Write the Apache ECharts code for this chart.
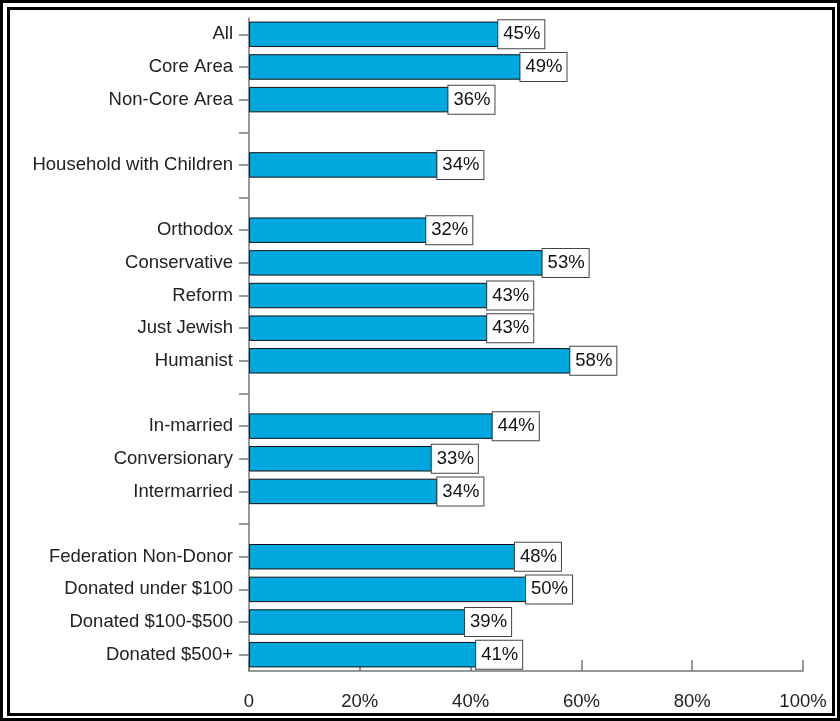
<!DOCTYPE html>
<html>
<head>
<meta charset="utf-8">
<script src="https://cdn.jsdelivr.net/npm/echarts@6/dist/echarts.min.js"></script>
<style>html,body{margin:0;padding:0;background:#fff;}#c{width:840px;height:721px;}</style>
</head>
<body>
<div id="c"></div>
<script>
const categories = ['All','Core Area','Non-Core Area',' ','Household with Children','  ','Orthodox','Conservative','Reform','Just Jewish','Humanist','   ','In-married','Conversionary','Intermarried','    ','Federation Non-Donor','Donated under $100','Donated $100-$500','Donated $500+'];
const values = [45,49,36,null,34,null,32,53,43,43,58,null,44,33,34,null,48,50,39,41];
const xTicks = [0,20,40,60,80,100];

const chart = echarts.init(document.getElementById('c'));
chart.setOption({
  animation: false,
  backgroundColor: '#fff',
  grid: {left: 249, right: 37, top: 18, bottom: 50, containLabel: false},
  graphic: [
    {type:'rect', shape:{x:1.5,y:1.5,width:837,height:718}, style:{fill:'none',stroke:'#000',lineWidth:3}},
    {type:'rect', shape:{x:8.5,y:8.5,width:825,height:706}, style:{fill:'none',stroke:'#000',lineWidth:3}}
  ],
  xAxis: {
    type: 'value', min: 0, max: 100, interval: 20,
    axisLine: {show: true, lineStyle: {color: '#777', width: 1.5}},
    axisTick: {show: true, inside: true, length: 11, lineStyle: {color: '#777', width: 1.5}},
    splitLine: {show: false},
    axisLabel: {margin: 21, fontSize: 18.5, color: '#222', fontFamily: 'Liberation Sans, Arial, sans-serif',
      formatter: v => xTicks.indexOf(v) === 0 ? '0' : v + '%'}
  },
  yAxis: {
    type: 'category', data: categories, inverse: true,
    axisLine: {show: true, lineStyle: {color: '#777', width: 1.5}},
    axisTick: {show: true, alignWithLabel: true, interval: 0, length: 10, lineStyle: {color: '#777', width: 1.5}},
    axisLabel: {interval: 0, margin: 16, fontSize: 18.5, color: '#222', padding: [5, 0, 0, 0], fontFamily: 'Liberation Sans, Arial, sans-serif'}
  },
  series: [{
    type: 'bar', data: values, barCategoryGap: '22%',
    itemStyle: {color: '#00A8DF', borderColor: '#111', borderWidth: 1},
    label: {
      show: true, position: 'right', distance: 0,
      formatter: p => p.value + '%',
      fontSize: 18.5, color: '#111', fontFamily: 'Liberation Sans, Arial, sans-serif',
      backgroundColor: '#fff', borderColor: '#444', borderWidth: 1,
      padding: [6, 4, 2, 5], lineHeight: 20
    }
  }]
});
</script>
</body>
</html>
